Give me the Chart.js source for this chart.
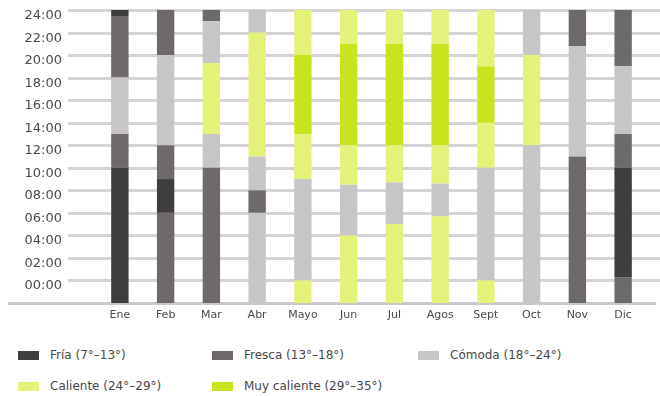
<!DOCTYPE html>
<html lang="es">
<head>
<meta charset="utf-8">
<title>Temperatura por hora del día</title>
<script src="https://cdn.jsdelivr.net/npm/chart.js@4.4.1/dist/chart.umd.min.js"></script>
<style>
  html, body { margin: 0; padding: 0; background: #ffffff; }
  .wrap { position: relative; width: 660px; height: 396px; }
  .chart-box { position: absolute; left: 0; top: 0; width: 660px; height: 330px; }
  .legend {
    position: absolute; left: 18px; top: 346px;
    display: grid; grid-template-columns: 194px 206px 220px;
    row-gap: 13px;
    font-family: "DejaVu Sans", sans-serif; font-size: 12px; color: #484848;
  }
  .legend span { display: flex; align-items: center; height: 18px; white-space: nowrap; }
  .legend i { display: inline-block; width: 21px; height: 9px; margin-right: 11px; }
</style>
</head>
<body>
<div class="wrap">
  <div class="chart-box"><canvas id="chart"></canvas></div>
  <div class="legend" id="legend"></div>
</div>
<script>
// Months on the x axis
const months = ['Ene', 'Feb', 'Mar', 'Abr', 'Mayo', 'Jun', 'Jul', 'Agos', 'Sept', 'Oct', 'Nov', 'Dic'];

// Hour ticks on the y axis
const hourTicks = [0, 2, 4, 6, 8, 10, 12, 14, 16, 18, 20, 22, 24];
const hourLabels = ['00:00', '02:00', '04:00', '06:00', '08:00', '10:00', '12:00',
                    '14:00', '16:00', '18:00', '20:00', '22:00', '24:00'];

// Temperature bands
const zoneNames = ['Fría (7°–13°)', 'Fresca (13°–18°)', 'Cómoda (18°–24°)',
                   'Caliente (24°–29°)', 'Muy caliente (29°–35°)'];
const zoneColors = ['#403d3e', '#6e6a6b', '#c8c5c6', '#e4f27a', '#c8e41e'];

// Hour where each segment starts/ends, bottom to top (bars sit on the -2 baseline)
const breaks = [
  [-2, 10, 13, 18, 23.4, 24],   // Ene
  [-2, 6, 9, 12, 20, 24],       // Feb
  [-2, 10, 13, 19.3, 23, 24],   // Mar
  [-2, 6, 8, 11, 22, 24],       // Abr
  [-2, 0, 9, 13, 20, 24],       // Mayo
  [-2, 4, 8.5, 12, 21, 24],     // Jun
  [-2, 5, 8.7, 12, 21, 24],     // Jul
  [-2, 5.7, 8.6, 12, 21, 24],   // Agos
  [-2, 0, 10, 14, 19, 24],      // Sept
  [-2, 12, 20, 24],             // Oct
  [-2, 11, 20.8, 24],           // Nov
  [-2, 0.3, 10, 13, 19, 24]     // Dic
];

// Band index of each segment, same order as breaks
const zones = [
  [0, 1, 2, 1, 0],
  [1, 0, 1, 2, 1],
  [1, 2, 3, 2, 1],
  [2, 1, 2, 3, 2],
  [3, 2, 3, 4, 3],
  [3, 2, 3, 4, 3],
  [3, 2, 3, 4, 3],
  [3, 2, 3, 4, 3],
  [3, 2, 3, 4, 3],
  [2, 3, 2],
  [1, 2, 1],
  [1, 0, 1, 2, 1]
];

// One dataset per segment layer, each bar coloured by its own band
const layerCount = Math.max(...zones.map(z => z.length));
const datasets = [];
for (let l = 0; l < layerCount; l++) {
  datasets.push({
    data: months.map((m, i) => zones[i][l] === undefined ? null : [breaks[i][l], breaks[i][l + 1]]),
    backgroundColor: months.map((m, i) => zones[i][l] === undefined ? 'transparent' : zoneColors[zones[i][l]]),
    borderWidth: 0,
    borderSkipped: false,
    barPercentage: 0.38,
    categoryPercentage: 1
  });
}

// Horizontal rules and hour labels, drawn under the bars
const hourGrid = {
  id: 'hourGrid',
  beforeDatasetsDraw(chart) {
    const { ctx, scales: { y } } = chart;
    ctx.save();
    ctx.lineWidth = 3;
    ctx.strokeStyle = '#d3d3d8';
    hourTicks.forEach((h, i) => {
      const py = Math.round(y.getPixelForValue(h)) + 0.5;
      ctx.beginPath();
      ctx.moveTo(68, py);
      ctx.lineTo(660, py);
      ctx.stroke();
      ctx.fillStyle = '#4a4a4a';
      ctx.font = '13px "DejaVu Sans", sans-serif';
      ctx.textAlign = 'right';
      ctx.textBaseline = 'middle';
      ctx.fillText(hourLabels[i], 62, py + 5);
    });
    // baseline
    const by = Math.round(y.getPixelForValue(y.min)) + 0.5;
    ctx.strokeStyle = '#c9c9cd';
    ctx.beginPath();
    ctx.moveTo(8, by);
    ctx.lineTo(656, by);
    ctx.stroke();
    ctx.restore();
  }
};

const chart = new Chart(document.getElementById('chart'), {
  type: 'bar',
  data: { labels: months, datasets },
  options: {
    responsive: true,
    maintainAspectRatio: false,
    animation: false,
    layout: { padding: { left: 97, right: 14, top: 10, bottom: 0 } },
    plugins: { legend: { display: false }, tooltip: { enabled: false } },
    scales: {
      x: {
        stacked: true,
        grid: { display: false, drawTicks: false },
        border: { display: false },
        ticks: {
          padding: 6,
          color: '#4a4a4a',
          font: { family: '"DejaVu Sans", sans-serif', size: 11 }
        },
        afterFit(scale) { scale.height = 27; }
      },
      y: {
        display: false,
        stacked: false,
        min: -2,
        max: 24
      }
    }
  },
  plugins: [hourGrid]
});

// Legend laid out in fixed columns
document.getElementById('legend').innerHTML = zoneNames
  .map((name, i) => `<span><i style="background:${zoneColors[i]}"></i>${name}</span>`)
  .join('');
</script>
</body>
</html>
